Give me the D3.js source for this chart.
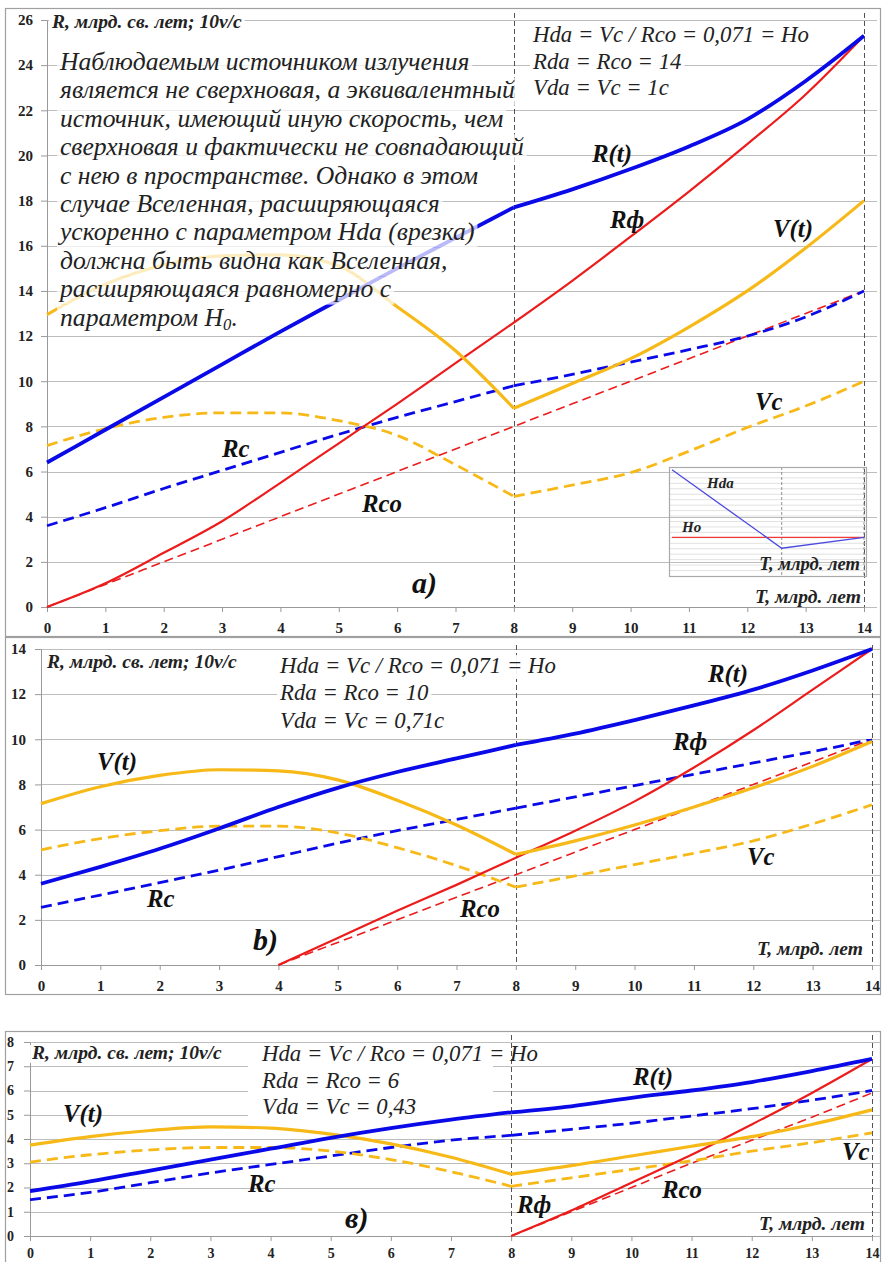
<!DOCTYPE html>
<html><head><meta charset="utf-8">
<script src="https://cdn.jsdelivr.net/npm/d3@7"></script>
<style>body{margin:0;background:#fff} svg{display:block}</style>
</head><body>
<svg id="chart" width="884" height="1262"></svg>
<script>
// ---------- DATA ----------
const T = [0,1,2,3,4,5,6,7,8,9,10,11,12,13,14];
const xTicks = [0,1,2,3,4,5,6,7,8,9,10,11,12,13,14];

// panel a
const aRt   = [6.4, 7.85, 9.3, 10.75, 12.2, 13.6, 15.0, 16.35, 17.7, 18.5, 19.4, 20.4, 21.6, 23.3, 25.3];
const aRphi = [0, 1.05, 2.4, 3.8, 5.5, 7.25, 9.0, 10.8, 12.6, 14.45, 16.4, 18.4, 20.5, 22.7, 25.3];
const aRco  = [0, 1, 2, 3, 4, 5, 6, 7, 8, 9, 10, 11, 12, 13, 14];
const aRc   = [3.6, 4.4, 5.25, 6.05, 6.85, 7.65, 8.4, 9.1, 9.8, 10.3, 10.85, 11.4, 12.0, 12.85, 14.0];
const aVt   = [12.95, 14.3, 15.15, 15.55, 15.6, 15.1, 13.3, 11.35, 8.8, 9.9, 11.0, 12.4, 14.0, 15.9, 18.0];
const aVc   = [7.15, 7.9, 8.4, 8.6, 8.6, 8.25, 7.6, 6.3, 4.9, 5.4, 5.95, 6.9, 7.95, 8.9, 10.0];
const aYTicks = [0,2,4,6,8,10,12,14,16,18,20,22,24,26];

// panel b
const bRt   = [3.6, 4.35, 5.15, 6.05, 7.0, 7.85, 8.55, 9.15, 9.75, 10.25, 10.85, 11.5, 12.2, 13.05, 14.0];
const bRphi = [null, null, null, null, 0, 1.2, 2.4, 3.55, 4.75, 5.95, 7.25, 8.75, 10.4, 12.2, 14.0];
const bRco  = [null, null, null, null, 0, 1, 2, 3, 4, 5, 6, 7, 8, 9, 10];
const bRc   = [2.55, 3.1, 3.65, 4.2, 4.8, 5.4, 5.95, 6.45, 6.95, 7.45, 7.95, 8.45, 8.95, 9.45, 10.0];
const bVt   = [7.15, 7.9, 8.4, 8.65, 8.6, 8.2, 7.3, 6.2, 4.9, 5.5, 6.2, 7.0, 7.85, 8.8, 9.9];
const bVc   = [5.1, 5.6, 5.95, 6.15, 6.15, 5.85, 5.2, 4.4, 3.45, 3.95, 4.45, 4.95, 5.5, 6.25, 7.1];
const bYTicks = [0,2,4,6,8,10,12,14];

// panel c
const cRt   = [1.85, 2.25, 2.7, 3.15, 3.6, 4.05, 4.45, 4.8, 5.1, 5.35, 5.7, 6.0, 6.35, 6.8, 7.3];
const cRphi = [null, null, null, null, null, null, null, null, 0, 1.05, 2.2, 3.35, 4.6, 5.9, 7.3];
const cRco  = [null, null, null, null, null, null, null, null, 0, 1, 2, 3, 3.95, 4.9, 5.9];
const cRc   = [1.5, 1.8, 2.2, 2.6, 2.95, 3.3, 3.65, 3.95, 4.15, 4.4, 4.65, 4.95, 5.25, 5.6, 6.0];
const cVt   = [3.75, 4.1, 4.35, 4.5, 4.45, 4.2, 3.8, 3.25, 2.55, 2.9, 3.3, 3.7, 4.1, 4.6, 5.2];
const cVc   = [3.05, 3.35, 3.55, 3.65, 3.65, 3.5, 3.15, 2.65, 2.05, 2.4, 2.75, 3.1, 3.5, 3.85, 4.25];
const cYTicks = [0,1,2,3,4,5,6,7,8];

// inset
const insetT   = [0, 8, 14];
const insetHda = [0.195, 0.051, 0.071];
const insetHo  = [0.071, 0.071, 0.071];

// texts
const yTitle = "R, млрд. св. лет; 10v/c";
const xTitle = "T, млрд. лет";
const aAnn = ["Hda = Vc / Rco = 0,071 = Ho", "Rda = Rco = 14", "Vda = Vc = 1c"];
const bAnn = ["Hda = Vc / Rco = 0,071 = Ho", "Rda = Rco = 10", "Vda = Vc = 0,71c"];
const cAnn = ["Hda = Vc / Rco = 0,071 = Ho", "Rda = Rco = 6", "Vda = Vc = 0,43"];
const bigText = [
  "Наблюдаемым источником излучения",
  "является не сверхновая, а эквивалентный",
  "источник, имеющий иную скорость, чем",
  "сверхновая и фактически не совпадающий",
  "с нею в пространстве. Однако в этом",
  "случае Вселенная, расширяющаяся",
  "ускоренно с параметром Hda (врезка)",
  "должна быть видна как Вселенная,",
  "расширяющаяся равномерно с",
  "параметром H"
];

// ---------- RENDER ----------
const svg = d3.select('#chart');
const FONT = "'Liberation Serif'";
const BLUE = '#0a0ae8', RED = '#ec1c1c', ORANGE = '#f7b918', GRID = '#bdbdbd', FRAME = '#a0a0a0';

svg.append('rect').attr('width',884).attr('height',1262).attr('fill','#fff');

function fitSize(text, weight, style, target, base=20){
  const t = svg.append('text').style('font-family',FONT).style('font-weight',weight)
    .style('font-style',style).style('font-size',base+'px').text(text);
  const w = t.node().getComputedTextLength(); t.remove();
  return base*target/w;
}
function styleText(sel, size, weight, italic){
  return sel.style('font-family',FONT).style('font-size',size+'px')
    .style('font-weight',weight).style('font-style',italic?'italic':'normal');
}
const bigSize   = fitSize(bigText[3],'normal','italic',464);
const annSize   = fitSize(aAnn[0],'normal','italic',276);
const titleSize = fitSize(yTitle,'bold','italic',190);
const tSize     = fitSize(xTitle,'bold','italic',106);
const lblSize   = fitSize('R(t)','bold','italic',40);
const letSize   = fitSize('a)','bold','italic',25);

const panels = [
  {frame:[5,8,880,636], x0:47, x14:864, y0:607, yTop:20, yMax:26, ticks:aYTicks, gridR:877, vTop:13, tick:15, pad:8, xpad:10,
   d:{Rt:aRt,Rphi:aRphi,Rco:aRco,Rc:aRc,Vt:aVt,Vc:aVc}, title:[52,28],
   ann:{x:533, base:[42,68.5,95], lines:aAnn},
   labels:[['R(t)',592,162],['Rф',610,228],['V(t)',773,237],['Vc',755,410],['Rc',222,457],['Rco',362,512]],
   letter:['a)',412,593], tlab:[861,603]},
  {frame:[5,637,880,994], x0:41, x14:872, y0:965, yTop:649, yMax:14, ticks:bYTicks, gridR:880, vTop:645, tick:15, pad:9, xpad:10,
   d:{Rt:bRt,Rphi:bRphi,Rco:bRco,Rc:bRc,Vt:bVt,Vc:bVc}, title:[47,668],
   ann:{x:280, base:[673,700,728], lines:bAnn},
   labels:[['V(t)',97,770],['Rc',147,907],['Rco',460,917],['Rф',673,750],['R(t)',708,682],['Vc',747,865]],
   letter:['b)',253,950], tlab:[863,955]},
  {frame:[5,1031,880,1275], x0:30, x14:872, y0:1236, yTop:1042, yMax:8, ticks:cYTicks, gridR:880, vTop:1035, tick:14, pad:10, xpad:7,
   d:{Rt:cRt,Rphi:cRphi,Rco:cRco,Rc:cRc,Vt:cVt,Vc:cVc}, title:[32,1059],
   ann:{x:262, base:[1061,1088,1114], lines:cAnn, box:[248,1045,493,1118]},
   labels:[['V(t)',63,1122],['Rc',248,1192],['R(t)',633,1085],['Rф',517,1213],['Rco',662,1198],['Vc',842,1160]],
   letter:['в)',345,1228], tlab:[865,1230]}
];

function drawLine(g, x, y, vals, style, split){
  const pts = T.map((t,i)=>[t,vals[i]]).filter(d=>d[1]!=null);
  const segs = split ? [pts.filter(d=>d[0]<=8), pts.filter(d=>d[0]>=8)] : [pts];
  const line = d3.line().x(d=>x(d[0])).y(d=>y(d[1])).curve(d3.curveMonotoneX);
  segs.forEach(s=>{
    if(s.length<2) return;
    g.append('path').attr('d',line(s)).attr('fill','none')
      .attr('stroke',style.c).attr('stroke-width',style.w)
      .attr('stroke-dasharray',style.dash||null).attr('stroke-linejoin','round');
  });
}

function bgText(g, x, yb, str, size, weight, italic, h, up, opacity){
  const t = styleText(g.append('text').attr('x',x).attr('y',yb), size, weight, italic)
    .attr('fill','#222').text(str);
  const w = t.node().getComputedTextLength();
  g.insert('rect','text').attr('x',x-3).attr('y',yb-up).attr('width',w+6).attr('height',h)
    .attr('fill','#fff').attr('fill-opacity',opacity);
  return t;
}

function drawAnn(g, p){
  const tg = g.append('g');
  if(p.ann.box){
    const b = p.ann.box;
    tg.append('rect').attr('x',b[0]).attr('y',b[1]).attr('width',b[2]-b[0]).attr('height',b[3]-b[1])
      .attr('fill','#fff');
  }
  p.ann.lines.forEach((s,i)=>{
    if(p.ann.box){
      styleText(tg.append('text').attr('x',p.ann.x).attr('y',p.ann.base[i]), annSize, 'normal', true)
        .attr('fill','#222').text(s);
    } else {
      bgText(tg,p.ann.x,p.ann.base[i],s,annSize,'normal',true,24,18,0.9);
    }
  });
}

panels.forEach((p,pi)=>{
  const g = svg.append('g');
  const x = d3.scaleLinear().domain([0,14]).range([p.x0,p.x14]);
  const y = d3.scaleLinear().domain([0,p.yMax]).range([p.y0,p.yTop]);
  // frame
  g.append('rect').attr('x',p.frame[0]+0.5).attr('y',p.frame[1]+0.5)
    .attr('width',p.frame[2]-p.frame[0]).attr('height',p.frame[3]-p.frame[1])
    .attr('fill','none').attr('stroke',FRAME).attr('stroke-width',1.2);
  // grid
  g.selectAll('.gl').data(p.ticks).join('line')
    .attr('x1',p.x0).attr('x2',p.gridR).attr('y1',d=>Math.round(y(d))+0.5).attr('y2',d=>Math.round(y(d))+0.5)
    .attr('stroke',GRID).attr('stroke-width',1.2);
  // axes
  const ax = g.append('g').attr('transform',`translate(0,${p.y0})`)
    .call(d3.axisBottom(x).tickValues(xTicks).tickFormat(d3.format('d')).tickSize(5).tickSizeOuter(0).tickPadding(p.xpad));
  const ay = g.append('g').attr('transform',`translate(${p.x0},0)`)
    .call(d3.axisLeft(y).tickValues(p.ticks).tickFormat(d3.format('d')).tickSize(6).tickSizeOuter(0).tickPadding(p.pad));
  [ax,ay].forEach(a=>{
    a.attr('font-family',null).attr('font-size',null);
    a.select('.domain').attr('stroke','#999');
    a.selectAll('.tick line').attr('stroke','#999');
    styleText(a.selectAll('.tick text'), p.tick, 'bold', false).attr('fill','#222');
  });
  // vertical dashed at 8 and 14
  [8,14].forEach(v=>{
    g.append('line').attr('x1',Math.round(x(v))+0.5).attr('x2',Math.round(x(v))+0.5)
      .attr('y1',p.vTop).attr('y2',p.y0).attr('stroke','#555').attr('stroke-width',1)
      .attr('stroke-dasharray','5,3');
  });
  if(pi>0) drawAnn(g,p);
  // series
  drawLine(g,x,y,p.d.Rco,{c:RED,w:1.6,dash:'9,5'},false);
  drawLine(g,x,y,p.d.Rc,{c:BLUE,w:2.8,dash:'11,6'},true);
  drawLine(g,x,y,p.d.Vc,{c:ORANGE,w:2.8,dash:'11,6'},true);
  drawLine(g,x,y,p.d.Rphi,{c:RED,w:2.2},false);
  drawLine(g,x,y,p.d.Vt,{c:ORANGE,w:3.2},true);
  drawLine(g,x,y,p.d.Rt,{c:BLUE,w:3.8},true);

  // inset (panel a)
  if(pi===0){
    const ig = g.append('g');
    const ix = d3.scaleLinear().domain([0,14]).range([672,864]);
    const iy = d3.scaleLinear().domain([0,0.2]).range([576,467]);
    ig.selectAll('.ig').data(d3.range(1,20).map(i=>i/100)).join('line')
      .attr('x1',670).attr('x2',866).attr('y1',d=>iy(d)).attr('y2',d=>iy(d))
      .attr('stroke','#d9d9d9').attr('stroke-width',0.8);
    [8,14].forEach(v=>{
      ig.append('line').attr('x1',ix(v)).attr('x2',ix(v)).attr('y1',467).attr('y2',576)
        .attr('stroke','#777').attr('stroke-width',0.8).attr('stroke-dasharray','3,2');
    });
    ig.append('rect').attr('x',669.5).attr('y',467.5).attr('width',197).attr('height',109)
      .attr('fill','none').attr('stroke','#aaa').attr('stroke-width',1.2);
    const il = d3.line().x((d,i)=>ix(insetT[i])).y(d=>iy(d));
    ig.append('path').attr('d',il(insetHo)).attr('fill','none').attr('stroke','#f03a3a').attr('stroke-width',1.3);
    ig.append('path').attr('d',il(insetHda)).attr('fill','none').attr('stroke','#4b4be0').attr('stroke-width',1.3);
    const lab = (s,xx,yy,anchor,sz)=>styleText(ig.append('text').attr('x',xx).attr('y',yy).attr('text-anchor',anchor), sz, 'bold', true)
      .attr('fill','#222').text(s);
    lab('Hda',707,488,'start',15);
    lab('Ho',682,532,'start',15);
    lab(xTitle,860,570,'end',tSize*0.95);
  }

  const tg = g.append('g');
  if(pi===0){
    drawAnn(g,p);
    // big text
    bigText.forEach((s,i)=>{
      const yb = 70 + i*28.4;
      const t = bgText(tg,60,yb,s,bigSize,'normal',true,28.4,21,0.72);
      if(i===bigText.length-1){
        t.append('tspan').style('font-size',(bigSize*0.65)+'px').attr('dy',4).text('0');
        t.append('tspan').attr('dy',-4).text('.');
        const w = t.node().getComputedTextLength();
        tg.selectAll('rect').filter((d,k,n)=>k===n.length-1).attr('width',w+6);
      }
    });
  }
  // title
  bgText(tg,p.title[0],p.title[1],yTitle,titleSize,'bold',true,18,14,0.9);
  // series labels
  p.labels.forEach(l=>{
    styleText(tg.append('text').attr('x',l[1]).attr('y',l[2]), lblSize, 'bold', true)
      .attr('fill','#111').text(l[0]);
  });
  styleText(tg.append('text').attr('x',p.letter[1]).attr('y',p.letter[2]), letSize, 'bold', true)
    .attr('fill','#111').text(p.letter[0]);
  styleText(tg.append('text').attr('x',p.tlab[0]).attr('y',p.tlab[1]).attr('text-anchor','end'), tSize, 'bold', true)
    .attr('fill','#222').text(xTitle);
});
</script>
</body></html>
